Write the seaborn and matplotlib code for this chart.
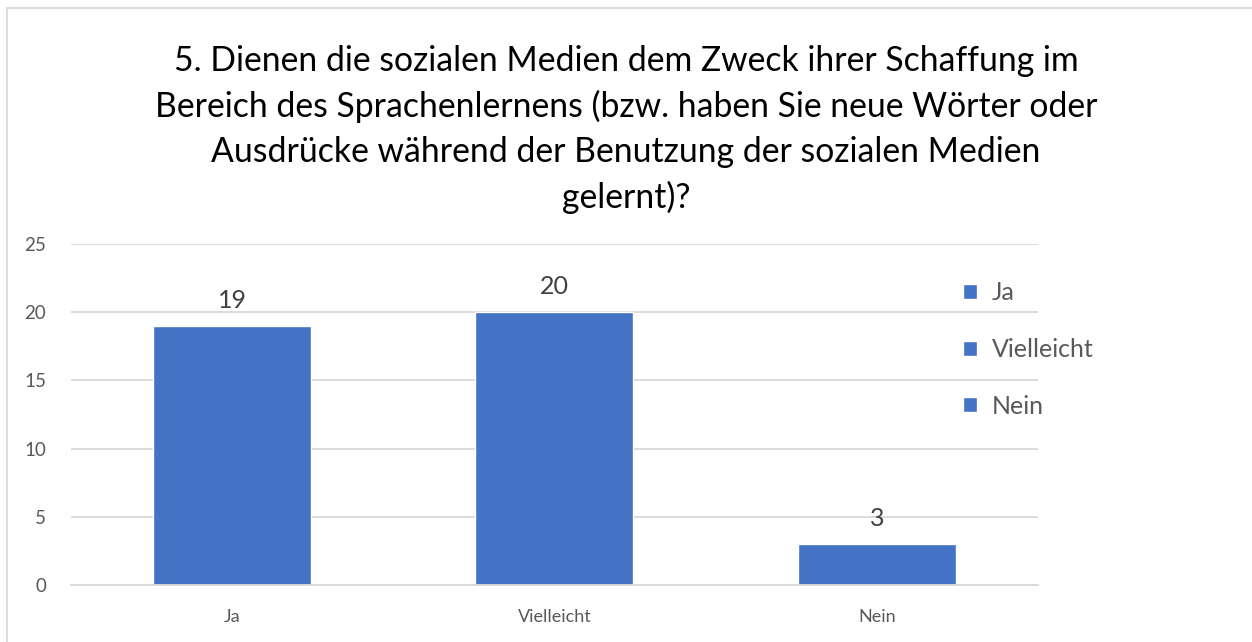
import matplotlib
matplotlib.use('Agg')

import matplotlib.pyplot as plt
import seaborn as sns
import pandas as pd
from matplotlib.patches import Rectangle


# ---------------------------------------------------
# Data
# ---------------------------------------------------

antworten = ['Ja', 'Vielleicht', 'Nein']
anzahl = [19, 20, 3]

titel = ('5. Dienen die sozialen Medien dem Zweck ihrer Schaffung im\n'
         'Bereich des Sprachenlernens (bzw. haben Sie neue Wörter oder\n'
         'Ausdrücke während der Benutzung der sozialen Medien\n'
         'gelernt)?')

df = pd.DataFrame({'Antwort': antworten, 'Anzahl': anzahl})

blau = '#4472C4'
grau_text = '#595959'
grau_linie = '#D9D9D9'


# ---------------------------------------------------
# Plot
# ---------------------------------------------------

sns.set_style('white')
plt.rcParams['font.family'] = ['Lato', 'DejaVu Sans']

fig = plt.figure(figsize=(12.52, 6.42), dpi=100)
ax = fig.add_axes([0.0567, 0.0888, 0.7723, 0.5312])

sns.barplot(
    data=df,
    x='Antwort',
    y='Anzahl',
    hue='Antwort',
    palette=[blau] * 3,
    width=0.49,
    saturation=1,
    legend=True,
    ax=ax
)

ax.set_ylim(0, 25)
ax.set_xlim(-0.5, 2.5)
ax.set_yticks(range(0, 26, 5))
ax.yaxis.grid(True, color=grau_linie, linewidth=1.3)
ax.set_axisbelow(True)

for s in ['top', 'right', 'left']:
    ax.spines[s].set_visible(False)
ax.spines['bottom'].set_color(grau_linie)
ax.spines['bottom'].set_linewidth(1.3)

ax.set_xlabel('')
ax.set_ylabel('')

ax.tick_params(axis='y', length=0, pad=18, labelsize=13.5, labelcolor=grau_text)
ax.tick_params(axis='x', which='major', length=0, pad=17, labelsize=13, labelcolor=grau_text)
ax.set_xticks([-0.5, 0.5, 1.5, 2.5], minor=True)
ax.tick_params(axis='x', which='minor', length=7, width=1.3, color=grau_linie)

for cont in ax.containers:
    ax.bar_label(cont, padding=10, fontsize=18, color='#404040')

leg = ax.legend(
    loc='upper left',
    bbox_to_anchor=(0.912, 0.92),
    frameon=False,
    fontsize=18,
    labelcolor=grau_text,
    handlelength=0.55,
    handleheight=0.55,
    handletextpad=0.6,
    labelspacing=1.35,
    borderaxespad=0.0
)

fig.text(0.5, 0.93, titel, ha='center', va='top', fontsize=24.3,
         color='#000000', linespacing=1.48)

fig.patches.append(Rectangle((0.0056, -0.05), 1.1, 1.038,
                             transform=fig.transFigure, fill=False,
                             edgecolor=grau_linie, linewidth=1.3))

plt.savefig('out.png', dpi=100)
plt.close()
